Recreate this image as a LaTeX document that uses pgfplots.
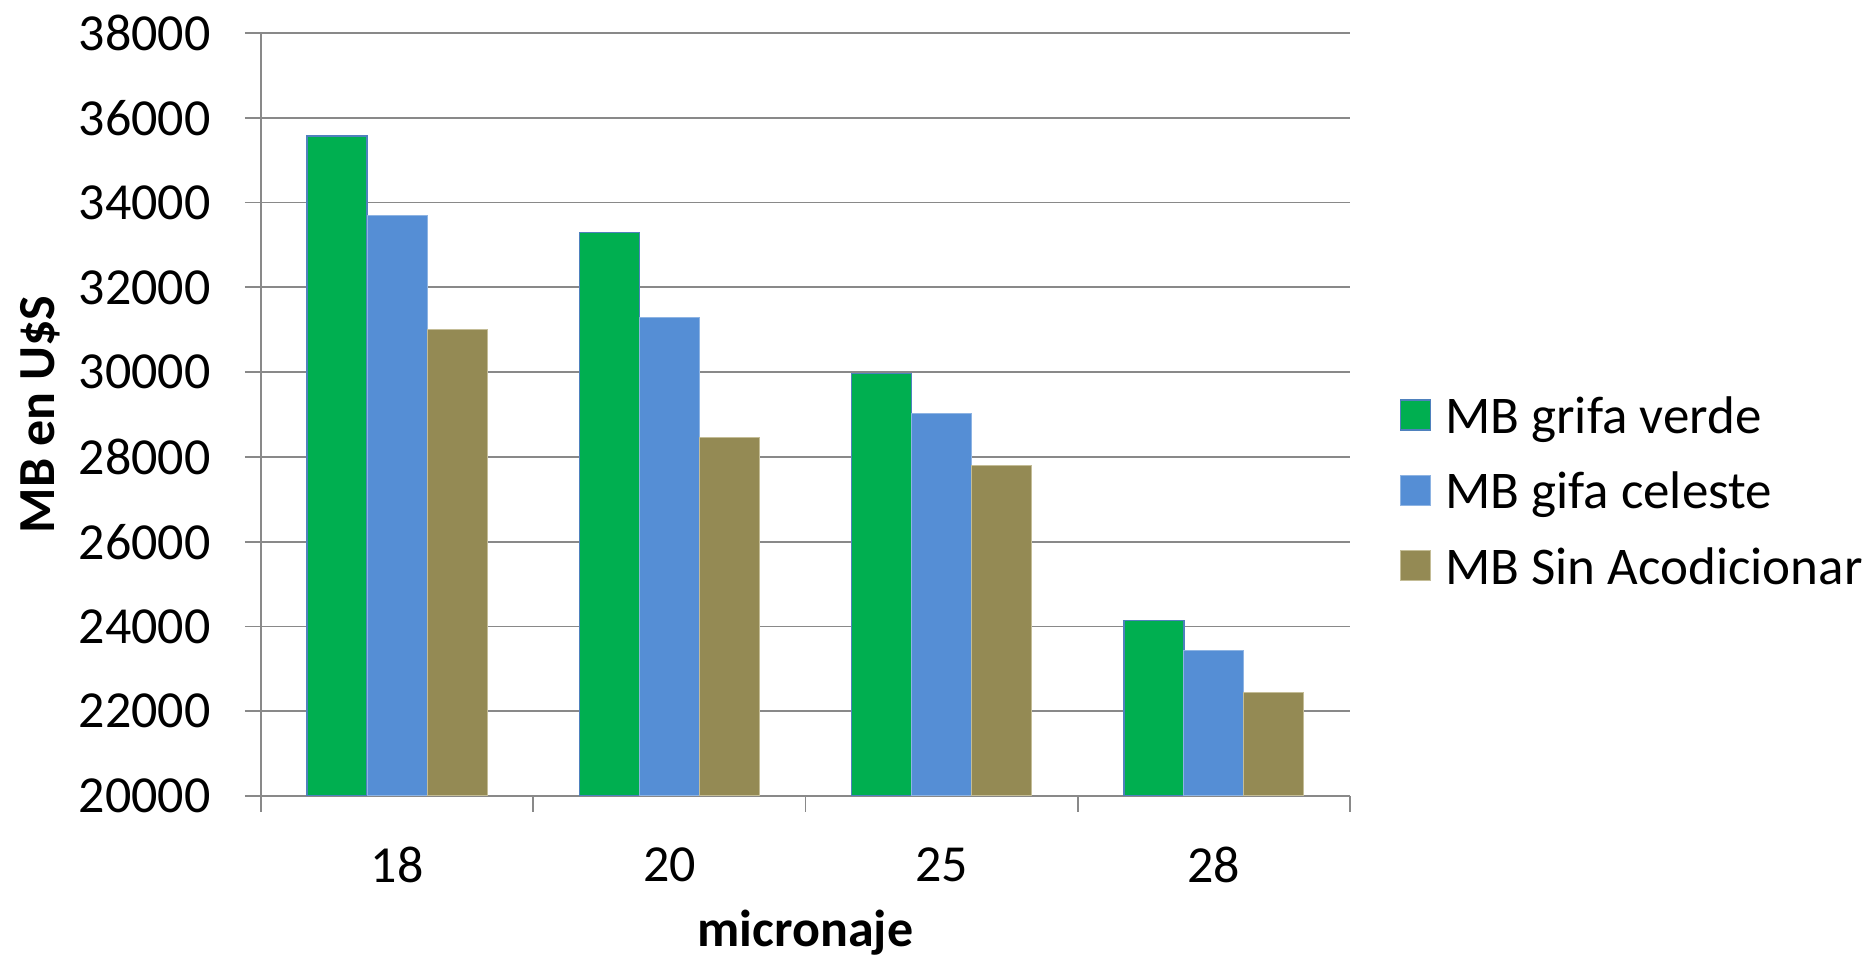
\documentclass[border=0pt]{standalone}
\usepackage{pgfplots}
\pgfplotsset{compat=1.18}
\usepackage{fontspec}
\setmainfont{Carlito}
\definecolor{cgreen}{HTML}{00AF50}
\definecolor{cblue}{HTML}{558ED5}
\definecolor{colive}{HTML}{948A54}
\definecolor{cgrid}{HTML}{898989}
\definecolor{cgborder}{HTML}{4F81BD}
\definecolor{cbborder}{HTML}{8EB4E3}
\definecolor{coborder}{HTML}{C4BD97}
\begin{document}
\begin{tikzpicture}
\path[use as bounding box] (-130.5pt,-83pt) rectangle (804.5pt,398pt);
\begin{axis}[
  at={(0pt,0pt)}, anchor=south west,
  scale only axis,
  width=544.5pt, height=381.5pt,
  xmin=-0.5, xmax=3.5,
  ymin=20000, ymax=38000,
  ytick={20000,22000,...,38000},
  scaled y ticks=false,
  xtick={-0.5,0.5,1.5,2.5,3.5},
  xticklabels={,,,,},
  extra x ticks={0,1,2,3},
  extra x tick labels={18,20,25,28},
  extra x tick style={major tick length=0pt},
  axis x line*=bottom,
  axis y line*=left,
  axis line style={cgrid, line width=0.9pt},
  tick style={cgrid, line width=0.9pt},
  major tick length=8pt,
  tick align=outside,
  ymajorgrids,
  grid style={cgrid, line width=0.9pt},
  /pgf/number format/1000 sep={},
  /pgf/number format/assume math mode=true,
  tick label style={font=\fontsize{26pt}{31pt}\selectfont, inner sep=0pt},
  yticklabel style={anchor=east, xshift=-17pt},
  xticklabel style={anchor=north, yshift=-25.5pt},
  xlabel={micronaje},
  ylabel={MB en U\$S},
  label style={font=\fontsize{26pt}{31pt}\selectfont\bfseries, inner sep=0pt},
  xlabel style={at={(axis description cs:0.5,-0.197903)}, anchor=base},
  ylabel style={at={(axis description cs:-0.18916,0.5)}, anchor=base},
  ybar=0pt, bar width=30pt,
  every axis plot/.append style={legend image code/.code={\path[##1] (0pt,0pt) rectangle (15pt,15pt);}},
  legend style={at={(axis description cs:1.04591,0.52477)}, anchor=north west,
    draw=none, fill=none, inner sep=0pt, outer sep=0pt,
    font=\fontsize{26.5pt}{31pt}\selectfont,
    row sep=12.7pt, column sep=7pt,
    nodes={inner sep=0pt, text height=19pt, text depth=6pt, yshift=4.8pt},
    cells={anchor=base west}},
  legend cell align=left,
]
\addplot[fill=cgreen, draw=cgborder, line width=0.7pt] coordinates {(0,35570) (1,33300) (2,29970) (3,24140)};
\addplot[fill=cblue, draw=cbborder, line width=0.5pt] coordinates {(0,33700) (1,31290) (2,29020) (3,23430)};
\addplot[fill=colive, draw=coborder, line width=0.5pt] coordinates {(0,31010) (1,28460) (2,27790) (3,22440)};
\legend{MB grifa verde, MB gifa celeste, MB Sin Acodicionar}
\end{axis}
\end{tikzpicture}
\end{document}
